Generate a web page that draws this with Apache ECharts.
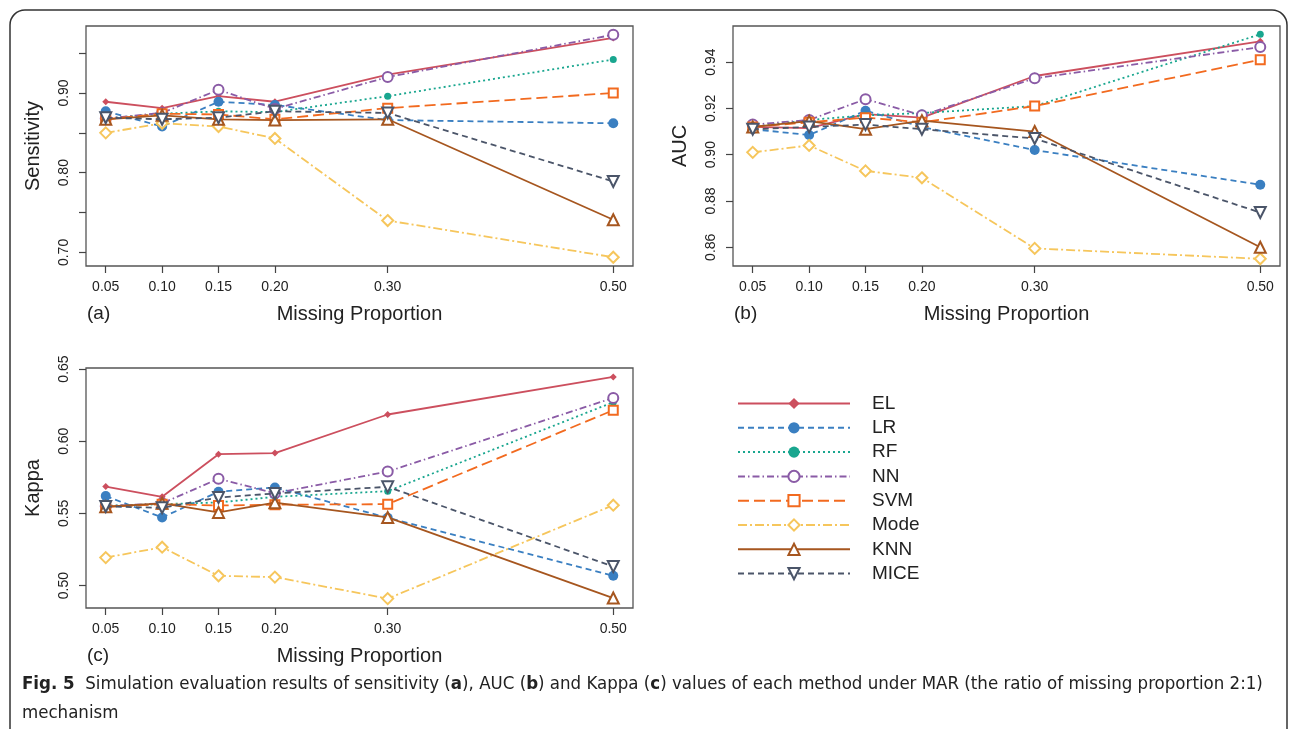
<!DOCTYPE html>
<html>
<head>
<meta charset="utf-8">
<script src="https://cdn.jsdelivr.net/npm/echarts@6/dist/echarts.min.js"></script>
<style>
    html, body { margin: 0; padding: 0; background: #fff; }
    #chart { width: 1295px; height: 729px; }
</style>
</head>
<body>
<div id="chart"></div>
<script>
// missing proportions on the x axis
var proportions = [0.05, 0.10, 0.15, 0.20, 0.30, 0.50];
var methods = ['EL', 'LR', 'RF', 'NN', 'SVM', 'Mode', 'KNN', 'MICE'];

// rows follow the order of methods
var sensitivity = [
    [0.889, 0.881, 0.896, 0.889, 0.923, 0.969],
    [0.877, 0.858, 0.889, 0.885, 0.866, 0.862],
    [0.868, 0.874, 0.877, 0.876, 0.896, 0.942],
    [0.868, 0.875, 0.904, 0.880, 0.920, 0.973],
    [0.867, 0.874, 0.873, 0.867, 0.881, 0.900],
    [0.850, 0.862, 0.858, 0.843, 0.740, 0.694],
    [0.867, 0.872, 0.867, 0.866, 0.867, 0.741],
    [0.869, 0.867, 0.869, 0.877, 0.875, 0.789]
];
var auc = [
    [0.912, 0.9115, 0.9175, 0.916, 0.934, 0.949],
    [0.911, 0.9085, 0.919, 0.912, 0.902, 0.887],
    [0.912, 0.915, 0.917, 0.918, 0.921, 0.952],
    [0.913, 0.915, 0.924, 0.917, 0.933, 0.9465],
    [0.912, 0.914, 0.916, 0.914, 0.921, 0.941],
    [0.901, 0.904, 0.893, 0.890, 0.8595, 0.855],
    [0.912, 0.9145, 0.911, 0.9147, 0.910, 0.860],
    [0.911, 0.912, 0.913, 0.911, 0.907, 0.875]
];
var kappa = [
    [0.5686, 0.5615, 0.591, 0.5918, 0.6185, 0.6445],
    [0.562, 0.5472, 0.565, 0.568, 0.547, 0.5068],
    [0.5553, 0.5564, 0.5576, 0.5615, 0.5654, 0.627],
    [0.555, 0.557, 0.574, 0.564, 0.579, 0.630],
    [0.5546, 0.5564, 0.5555, 0.556, 0.5564, 0.6215],
    [0.5194, 0.5266, 0.5068, 0.5059, 0.491, 0.5557],
    [0.5546, 0.557, 0.5507, 0.5574, 0.5472, 0.4914],
    [0.5548, 0.5539, 0.561, 0.5638, 0.5684, 0.5132]
];

// tick marks and labelled ticks
var xTicks = [0.05, 0.10, 0.15, 0.20, 0.30, 0.50];
var sensTicks = [0.70, 0.75, 0.80, 0.85, 0.90, 0.95];
var sensLabels = [0.70, 0.80, 0.90];
var aucTicks = [0.86, 0.88, 0.90, 0.92, 0.94];
var kappaTicks = [0.50, 0.55, 0.60, 0.65];

// look of each method
var colors = ['#cc4f5e', '#3a7fc1', '#19a68f', '#8a5ba6', '#f26a1f', '#f6c65c', '#a6561f', '#4b5569'];
var dashes = ['solid', [6, 4], [2, 3], [7, 3, 1.5, 3], [11, 5], [9, 3, 2, 3], 'solid', [6, 4]];
var symbols = ['diamond', 'circle', 'circle', 'emptyCircle', 'emptyRect', 'emptyDiamond', 'emptyTriangle', 'emptyTriangle'];
var symbolSizes = [7, 10, 7, 10, 9, 11, 11, 11];
var symbolRotates = [0, 0, 0, 0, 0, 0, 0, 180];

var numFont = 'Liberation Sans, Arial, sans-serif';
var capFont = 'Liberation Sans Narrow, DejaVu Sans Condensed, sans-serif';

var panels = [
    { data: sensitivity, left: 86, top: 26, min: 0.683, max: 0.984, ticks: sensTicks, labels: sensLabels, title: 'Sensitivity', tag: '(a)' },
    { data: auc, left: 733, top: 26, min: 0.8519, max: 0.9556, ticks: aucTicks, labels: aucTicks, title: 'AUC', tag: '(b)' },
    { data: kappa, left: 86, top: 368, min: 0.4845, max: 0.6507, ticks: kappaTicks, labels: kappaTicks, title: 'Kappa', tag: '(c)' }
];

function fmt(v) {
    return Number(v).toFixed(2);
}

var grids = [], xAxes = [], yAxes = [], series = [], graphics = [];

for (var p = 0; p < panels.length; p++) {
    var pan = panels[p];
    grids.push({
        left: pan.left, top: pan.top, width: 547, height: 240,
        show: true, borderColor: '#555', borderWidth: 1.3
    });
    xAxes.push({
        type: 'value', gridIndex: p, min: 0.0325, max: 0.5175,
        axisLine: { show: false },
        splitLine: { show: false },
        axisTick: { show: true, length: 7, customValues: xTicks, lineStyle: { color: '#444', width: 1.2 } },
        axisLabel: { customValues: xTicks, formatter: fmt, margin: 14, fontSize: 14, color: '#222', fontFamily: numFont },
        name: 'Missing Proportion', nameLocation: 'middle', nameGap: 38,
        nameTextStyle: { fontSize: 20, color: '#222', fontFamily: numFont }
    });
    yAxes.push({
        type: 'value', gridIndex: p, min: pan.min, max: pan.max,
        axisLine: { show: false },
        splitLine: { show: false },
        axisTick: { show: true, length: 7, customValues: pan.ticks, lineStyle: { color: '#444', width: 1.2 } },
        axisLabel: { customValues: pan.labels, formatter: fmt, rotate: 90, margin: 15, fontSize: 14, color: '#222', fontFamily: numFont },
        name: pan.title, nameLocation: 'middle', nameGap: 43, nameRotate: 90,
        nameTextStyle: { fontSize: 20, color: '#222', fontFamily: numFont }
    });
    graphics.push({
        type: 'text', left: pan.left + 1, top: pan.top + 278,
        style: { text: pan.tag, font: '19px ' + numFont, fill: '#222' }
    });

    for (var m = 0; m < methods.length; m++) {
        var pts = [];
        for (var i = 0; i < proportions.length; i++) {
            pts.push([proportions[i], pan.data[m][i]]);
        }
        series.push({
            name: methods[m],
            type: 'line',
            xAxisIndex: p,
            yAxisIndex: p,
            data: pts,
            symbol: symbols[m],
            symbolSize: symbolSizes[m],
            symbolRotate: symbolRotates[m],
            showAllSymbol: true,
            lineStyle: { color: colors[m], width: 1.8, type: dashes[m] },
            itemStyle: { color: colors[m], borderWidth: 1.6 },
            emphasis: { disabled: true },
            z: 2 + m
        });
    }
}

// rounded frame round the figure
graphics.push({
    type: 'rect',
    shape: { x: 10, y: 10, width: 1277, height: 760, r: 15 },
    style: { fill: 'none', stroke: '#333', lineWidth: 1.5 },
    z: -1
});

// caption
graphics.push({
    type: 'text', left: 22, top: 670,
    style: {
        text: '{b|Fig. 5}  Simulation evaluation results of sensitivity ({b|a}), AUC ({b|b}) and Kappa ({b|c}) values of each method under MAR (the ratio of missing proportion 2:1)\nmechanism',
        fontSize: 18.5,
        fontFamily: capFont,
        fill: '#222',
        lineHeight: 29,
        rich: {
            b: { fontWeight: 'bold', fontSize: 18.5, fontFamily: capFont, fill: '#222', lineHeight: 29 }
        }
    }
});

var myChart = echarts.init(document.getElementById('chart'));
myChart.setOption({
    animation: false,
    backgroundColor: '#fff',
    grid: grids,
    xAxis: xAxes,
    yAxis: yAxes,
    legend: {
        data: methods,
        orient: 'vertical',
        left: 732,
        top: 389,
        itemWidth: 112,
        itemHeight: 14,
        itemGap: 5.3,
        selectedMode: false,
        textStyle: { fontSize: 19, color: '#222', fontFamily: numFont, padding: [0, 0, 0, 17] }
    },
    graphic: graphics,
    series: series
});
</script>
</body>
</html>
